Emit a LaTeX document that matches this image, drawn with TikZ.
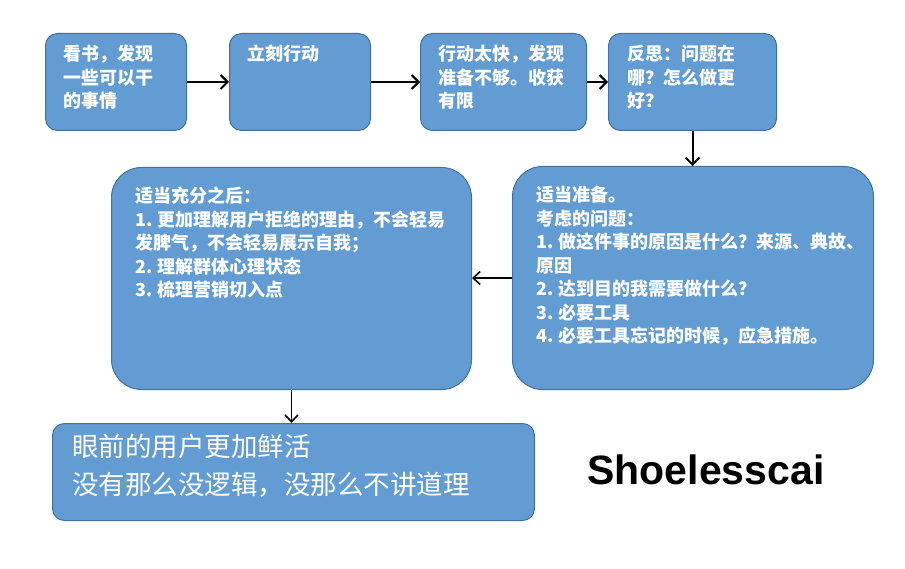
\documentclass[tikz,border=0pt]{standalone}
\usepackage{fontspec}
\usepackage{tikz}
\usetikzlibrary{positioning}
\usetikzlibrary{arrows.meta}
\newfontfamily\cjk{Noto Sans CJK SC}
\setsansfont{Liberation Sans}
\tikzstyle{canvas} = [x = 1pt, y = -1pt]
\definecolor{stepColor}{RGB}{98,156,211}
\definecolor{borderColor}{RGB}{65,113,156}
\tikzstyle{stepStyle} = [draw=borderColor, fill=stepColor, rounded corners = 12pt, line width = 1pt, anchor = north west, inner sep = 0pt]
\tikzstyle{bigStepStyle} = [stepStyle, rounded corners = 30pt]
\tikzstyle{stepText} = [text=white, font=\cjk\bfseries\fontsize{18pt}{23.5pt}\selectfont, align=left, inner sep=0pt]
\tikzstyle{resultText} = [text=white, font=\cjk\fontsize{26.5pt}{38pt}\selectfont, align=left, inner sep=0pt]
\tikzstyle{flowArrow} = [-{Straight Barb[length=7pt, width=14pt]}, line width = 2pt]
\tikzstyle{thinArrow} = [-{Straight Barb[length=7pt, width=13pt]}, line width = 1.6pt]
\newcommand{\stepBox}[6]{\node [#1, minimum width = #5pt, minimum height = #6pt] (#2) at (#3, #4) {};}

\begin{document}
\begin{tikzpicture}[canvas]
          \fill [white] (0,0) rectangle (905,569);
          \useasboundingbox (0,0) rectangle (905,569);

          \stepBox{stepStyle}{read}{45}{33}{141}{97}
          \stepBox{stepStyle}{act}{229}{33}{141}{97}
          \stepBox{stepStyle}{fast}{420}{33}{166}{97}
          \stepBox{stepStyle}{think}{608}{33}{168}{97}
          \stepBox{bigStepStyle}{prepare}{512}{166}{361}{223}
          \stepBox{bigStepStyle}{after}{111}{167}{360}{222}
          \stepBox{stepStyle}{result}{52}{423}{482}{97}

          \node [stepText, below right = 12pt and 18pt of read.north west] (readText) {看书，发现\\一些可以干\\的事情};
          \node [stepText, below right = 12pt and 18pt of act.north west] (actText) {立刻行动};
          \node [stepText, below right = 12pt and 18pt of fast.north west] (fastText) {行动太快，发现\\准备不够。收获\\有限};
          \node [stepText, below right = 12pt and 19pt of think.north west] (thinkText) {反思：问题在\\哪？怎么做更\\好？};
          \node [stepText, below right = 20pt and 24pt of prepare.north west] (prepareText) {适当准备。\\考虑的问题：\\1. 做这件事的原因是什么？来源、典故、\\原因\\2. 达到目的我需要做什么？\\3. 必要工具\\4. 必要工具忘记的时候，应急措施。};
          \node [stepText, below right = 20pt and 24pt of after.north west] (afterText) {适当充分之后：\\1. 更加理解用户拒绝的理由，不会轻易\\发脾气，不会轻易展示自我；\\2. 理解群体心理状态\\3. 梳理营销切入点};
          \node [resultText, below right = 11pt and 20pt of result.north west] (resultText) {眼前的用户更加鲜活\\没有那么没逻辑，没那么不讲道理};

          \node [font=\sffamily\bfseries\fontsize{41pt}{41pt}\selectfont] (brand) at (706, 470) {Shoelesscai};

          \draw [flowArrow] (read.east) -- (read.east -| act.west);
          \draw [flowArrow] (act.east) -- (act.east -| fast.west);
          \draw [flowArrow] (fast.east) -- (fast.east -| think.west);
          \draw [flowArrow] (think.south) -- (think.south |- prepare.north);
          \draw [thinArrow] (prepare.west) -- (prepare.west -| after.east);
          \draw [thinArrow] (after.south) -- (after.south |- result.north);
\end{tikzpicture}
\end{document}
